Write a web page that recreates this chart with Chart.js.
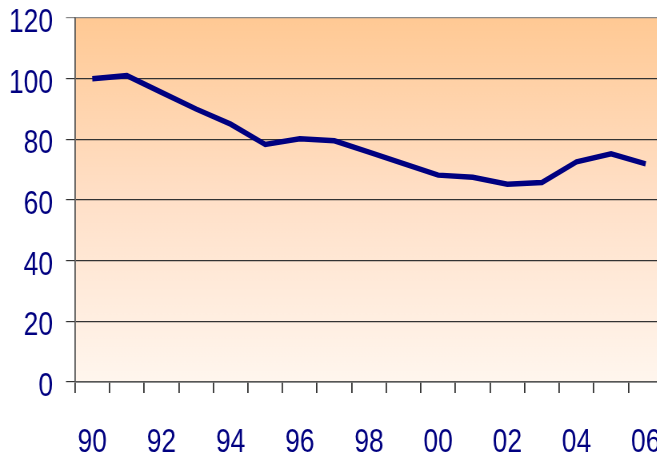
<!DOCTYPE html>
<html>
<head>
<meta charset="utf-8">
<script src="https://cdn.jsdelivr.net/npm/chart.js@4/dist/chart.umd.min.js"></script>
<style>
  html, body { margin: 0; padding: 0; background: #ffffff; overflow: hidden; }
  #wrap { position: relative; width: 875px; height: 455px; transform: scaleX(0.8); transform-origin: 0 0; }
</style>
</head>
<body>
<div id="wrap"><canvas id="c" width="875" height="455"></canvas></div>
<script>
const years = ['90','91','92','93','94','95','96','97','98','99','00','01','02','03','04','05','06'];
const values = [100, 101, 95.5, 90, 85, 78.3, 80.2, 79.5, 75.8, 72, 68.2, 67.5, 65.2, 65.8, 72.6, 75.2, 71.9];
const yTicks = [0, 20, 40, 60, 80, 100, 120];

const fontFamily = '"Liberation Sans", Arial, sans-serif';
const navy = '#000080';

const bgPlugin = {
  id: 'bg',
  beforeDraw(chart) {
    const { ctx, chartArea: a } = chart;
    const g = ctx.createLinearGradient(0, a.top, 0, a.bottom);
    g.addColorStop(0, '#ffc994');
    g.addColorStop(0.5, '#ffe0c8');
    g.addColorStop(1, '#fff6ee');
    ctx.save();
    ctx.fillStyle = g;
    ctx.fillRect(a.left, a.top, a.right - a.left, a.bottom - a.top);
    ctx.restore();
  }
};

new Chart(document.getElementById('c'), {
  type: 'line',
  data: {
    labels: years,
    datasets: [{
      data: values,
      borderColor: navy,
      borderWidth: 5.5,
      pointRadius: 0,
      tension: 0,
      borderJoinStyle: 'miter',
      fill: false
    }]
  },
  options: {
    responsive: false,
    animation: false,
    devicePixelRatio: 1,
    layout: { padding: { top: 18, right: 46.25, left: 0, bottom: 0 } },
    plugins: { legend: { display: false }, tooltip: { enabled: false } },
    scales: {
      x: {
        type: 'category',
        offset: true,
        grid: { offset: true, drawOnChartArea: false, drawTicks: true, tickLength: 11, color: '#333333', lineWidth: 1.8 },
        border: { display: true, color: '#555555', width: 1.5 },
        ticks: {
          autoSkip: false,
          maxRotation: 0,
          padding: 30,
          color: navy,
          font: { family: fontFamily, size: 33 },
          callback: function(v, i) { return i % 2 === 0 ? years[i] : ''; }
        },
        afterFit(scale) { scale.height = 73; scale.paddingLeft = 0; scale.paddingRight = 0; }
      },
      y: {
        min: 0,
        max: 120,
        afterBuildTicks(scale) { scale.ticks = yTicks.map(v => ({ value: v })); },
        grid: {
          drawTicks: true,
          tickLength: 11.25,
          color: (c) => c.tick && c.tick.value === 120 ? '#888888' : '#333333',
          lineWidth: 1.2
        },
        border: { display: true, color: '#555555', width: 1.8 },
        ticks: {
          padding: 16.25,
          labelOffset: 5,
          color: navy,
          font: { family: fontFamily, size: 33 }
        },
        afterFit(scale) { scale.width = 93.75; scale.paddingTop = 0; scale.paddingBottom = 0; }
      }
    }
  },
  plugins: [bgPlugin]
});
</script>
</body>
</html>
